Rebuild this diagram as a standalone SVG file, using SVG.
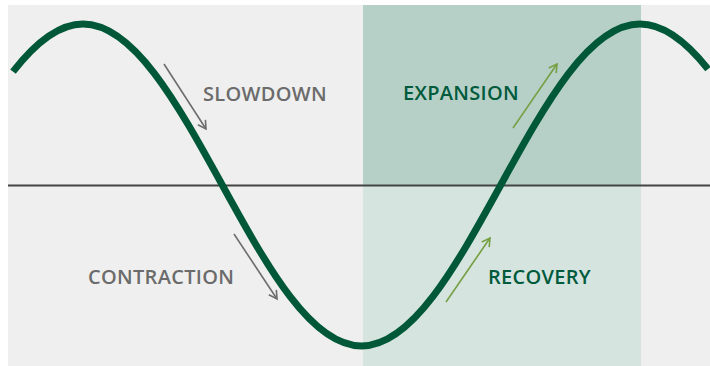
<svg xmlns="http://www.w3.org/2000/svg" width="710" height="366" viewBox="0 0 710 366">
<defs>
<style>
.lbl{font-family:"Open Sans","Liberation Sans",sans-serif;font-weight:600;font-size:20px;letter-spacing:0.3px}
.gray{fill:#6b6b6b}
.green{fill:#005a3c}
.arr{fill:none;stroke-width:1.6;stroke-linecap:butt}
.ag{stroke:#6d6d6d}
.ak{stroke:#76a044}
</style>
<marker id="hg" viewBox="0 0 12 12" refX="10" refY="6" markerWidth="12" markerHeight="12" markerUnits="userSpaceOnUse" orient="auto"><path d="M2,1.5 L10,6 L2,10.5" fill="none" stroke="#6d6d6d" stroke-width="1.6"/></marker>
<marker id="hk" viewBox="0 0 12 12" refX="10" refY="6" markerWidth="12" markerHeight="12" markerUnits="userSpaceOnUse" orient="auto"><path d="M2,1.5 L10,6 L2,10.5" fill="none" stroke="#76a044" stroke-width="1.6"/></marker>
</defs>
<g id="background">
<rect x="0" y="0" width="710" height="366" fill="#ffffff"/>
<rect x="8" y="5" width="702" height="361" fill="#efefef"/>
<rect x="363" y="5" width="278" height="180" fill="#b6d0c7"/>
<rect x="363" y="185" width="278" height="181" fill="#d5e4df"/>
<line x1="8" y1="185.5" x2="710" y2="185.5" stroke="#444444" stroke-width="2"/>
</g>
<g id="curve">
<path d="M13,71.7 C36.33,41.6 59.67,24 83,24 C133.39,24 176.84,102.52 222.25,185 C267.66,267.48 311.11,346 361.5,346 C411.89,346 455.34,267.48 500.75,185 C546.16,102.52 589.61,24 640,24 C662.67,24 685.33,40.5 708,69.1" fill="none" stroke="#005838" stroke-width="7"/>
</g>
<g id="connectors">
<line class="arr ag" x1="164" y1="64" x2="206" y2="129" marker-end="url(#hg)"/>
<line class="arr ag" x1="234" y1="234" x2="277" y2="299" marker-end="url(#hg)"/>
<line class="arr ak" x1="513" y1="128" x2="557" y2="64" marker-end="url(#hk)"/>
<line class="arr ak" x1="446" y1="302" x2="490" y2="238" marker-end="url(#hk)"/>
</g>
<g id="slowdown"><text class="lbl gray" x="203" y="101">SLOWDOWN</text></g>
<g id="contraction"><text class="lbl gray" x="88" y="284">CONTRACTION</text></g>
<g id="expansion"><text class="lbl green" x="403" y="100">EXPANSION</text></g>
<g id="recovery"><text class="lbl green" x="488" y="284">RECOVERY</text></g>
</svg>
